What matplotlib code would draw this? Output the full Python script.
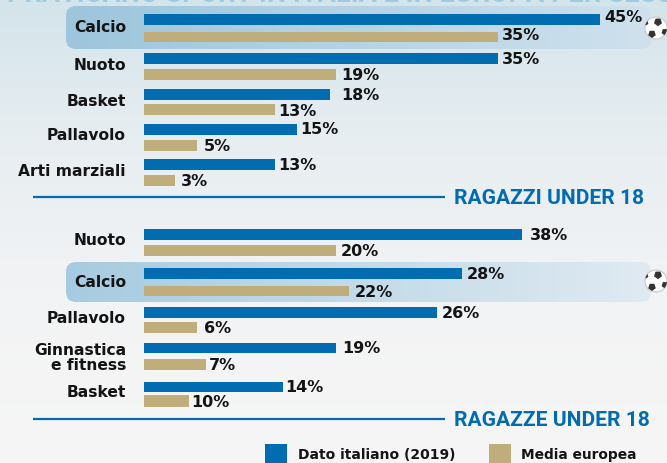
import matplotlib
matplotlib.use('Agg')
import matplotlib.pyplot as plt
import numpy as np
from matplotlib.colors import LinearSegmentedColormap
from matplotlib.patches import Circle, FancyBboxPatch, Rectangle, RegularPolygon

# bar lengths as drawn in the picture, they do not always follow the printed label
boys_sports = ['Calcio', 'Nuoto', 'Basket', 'Pallavolo', 'Arti marziali']
boys_italy = [45.0, 34.9, 18.4, 15.1, 12.9]
boys_europe = [34.9, 19.0, 12.9, 5.2, 3.1]
boys_italy_labels = ['45%', '35%', '18%', '15%', '13%']
boys_europe_labels = ['35%', '19%', '13%', '5%', '3%']

girls_sports = ['Nuoto', 'Calcio', 'Pallavolo', 'Ginnastica\ne fitness', 'Basket']
girls_italy = [37.3, 31.4, 28.9, 19.0, 13.7]
girls_europe = [19.0, 20.2, 5.2, 6.1, 4.4]
girls_italy_labels = ['38%', '28%', '26%', '19%', '14%']
girls_europe_labels = ['20%', '22%', '6%', '7%', '10%']

BLUE = '#026cb0'
TAN = '#bfae7c'
INK = '#141414'
W, H = 667, 464
PX_PER_PCT = 10.13
FONT = 'DejaVu Sans'

# layout, in picture pixels
boys_italy_y = [(15, 26), (54, 65), (90, 101), (125, 136), (160, 171)]
boys_europe_y = [(33, 43), (70, 81), (105, 116), (141, 152), (176, 187)]
girls_italy_y = [(230, 241), (269, 280), (308, 319), (344, 354), (383, 393)]
girls_europe_y = [(246, 257), (287, 297), (323, 334), (360, 371), (396, 408)]
boys_name_y = [28, 66, 102, 136, 172]
girls_name_y = [241, 283, 319, 358, 393]
boys_italy_pos = [(604, 18), (502, 60), (341, 96), (300, 130), (278, 166)]
boys_europe_pos = [(502, 36), (341, 76), (278, 111), (204, 147), (181, 182)]
girls_italy_pos = [(530, 236), (467, 275), (442, 314), (342, 349), (285, 388)]
girls_europe_pos = [(341, 252), (355, 293), (204, 329), (209, 366), (191, 403)]


def draw_ball(ax, cx, cy):
    ball = Circle((cx, cy), 11, fc='white', ec='#c8c8c8', lw=0.8, zorder=5)
    ax.add_patch(ball)
    for dx, dy, r in [(2, -6, 4.2), (-4, 6, 4.0), (9, 4, 3.6), (-10, -5, 2.5)]:
        spot = RegularPolygon((cx + dx, cy + dy), 5, radius=r, fc='#333333', ec='none', zorder=6)
        ax.add_patch(spot)
        spot.set_clip_path(ball)


def draw_pill(ax, y0, y1, left, right):
    cmap = LinearSegmentedColormap.from_list('pill', [left, right])
    grad = np.linspace(0, 1, 256).reshape(1, -1)
    im = ax.imshow(grad, extent=(66, 651, y1, y0), cmap=cmap, aspect='auto', zorder=1)
    box = FancyBboxPatch((74, y0 + 8), 569, y1 - y0 - 16, boxstyle='round,pad=8,rounding_size=10',
                         fc='none', ec='none', transform=ax.transData)
    ax.add_patch(box)
    im.set_clip_path(box)


def draw_group(ax_bg, ax, names, name_y, italy, europe, italy_y, europe_y,
               italy_labels, europe_labels, italy_pos, europe_pos):
    for val, (y0, y1) in zip(italy, italy_y):
        ax.barh((y0 + y1) / 2, val, height=y1 - y0, color=BLUE, zorder=3)
    for val, (y0, y1) in zip(europe, europe_y):
        ax.barh((y0 + y1) / 2, val, height=y1 - y0, color=TAN, zorder=3)
    for name, y in zip(names, name_y):
        ax_bg.text(126, y, name, ha='right', va='center', fontsize=11.2, color=INK, family=FONT,
                   fontweight='bold', linespacing=1.0, zorder=4, multialignment='right')
    for lab, (x, y) in zip(italy_labels + europe_labels, italy_pos + europe_pos):
        ax_bg.text(x, y, lab, ha='left', va='center', fontsize=11.5, color=INK, family=FONT,
                   fontweight='bold', zorder=4)


def main():
    fig = plt.figure(figsize=(W / 100, H / 100), dpi=100)
    ax_bg = fig.add_axes([0, 0, 1, 1])
    ax_bg.set_xlim(0, W)
    ax_bg.set_ylim(H, 0)
    ax_bg.axis('off')

    back = LinearSegmentedColormap.from_list(
        'back', [(0, '#d3e4eb'), (0.28, '#e6edf1'), (0.62, '#f2f3f4'), (1, '#f6f6f6')])
    ax_bg.imshow(np.linspace(0, 1, 256).reshape(-1, 1), extent=(0, W, H, 0), cmap=back,
                 aspect='auto', zorder=0)

    # title is cut off by the top of the picture, only its lower edge shows
    ax_bg.text(349, 2.2, 'PRATICANO SPORT IN ITALIA E IN EUROPA PER SESSO', ha='center', va='baseline',
               fontsize=19.5, color='#9ccbe6', family='Roboto', fontweight='bold', zorder=1)

    draw_pill(ax_bg, 7, 50, '#9dc5dc', '#cfe1ed')
    draw_pill(ax_bg, 263, 303, '#a6cbe0', '#e0eaf2')
    draw_ball(ax_bg, 656, 29)
    draw_ball(ax_bg, 656, 282)

    ax = fig.add_axes([144 / W, 0, (W - 144) / W, 1])
    ax.set_xlim(0, (W - 144) / PX_PER_PCT)
    ax.set_ylim(H, 0)
    ax.axis('off')
    ax.patch.set_alpha(0)

    draw_group(ax_bg, ax, boys_sports, boys_name_y, boys_italy, boys_europe, boys_italy_y, boys_europe_y,
               boys_italy_labels, boys_europe_labels, boys_italy_pos, boys_europe_pos)
    draw_group(ax_bg, ax, girls_sports, girls_name_y, girls_italy, girls_europe, girls_italy_y, girls_europe_y,
               girls_italy_labels, girls_europe_labels, girls_italy_pos, girls_europe_pos)

    for y, lab in [(198, 'RAGAZZI UNDER 18'), (420, 'RAGAZZE UNDER 18')]:
        ax_bg.plot([33, 445], [y, y], color=BLUE, lw=1.6, zorder=2, solid_capstyle='butt')
        ax_bg.text(454, y + 0.5, lab, ha='left', va='center', fontsize=15.1, color=BLUE,
                   family='Roboto', fontweight='bold', zorder=2)

    ax_bg.add_patch(Rectangle((265, 445), 22, 19, fc=BLUE, ec='none', zorder=2))
    ax_bg.add_patch(Rectangle((489, 445), 22, 19, fc=TAN, ec='none', zorder=2))
    ax_bg.text(298, 455, 'Dato italiano (2019)', ha='left', va='center', fontsize=10, color=INK,
               family=FONT, fontweight='bold', zorder=2)
    ax_bg.text(521, 455, 'Media europea', ha='left', va='center', fontsize=9.9, color=INK,
               family=FONT, fontweight='bold', zorder=2)

    fig.savefig('out.png', dpi=100)


if __name__ == '__main__':
    main()
